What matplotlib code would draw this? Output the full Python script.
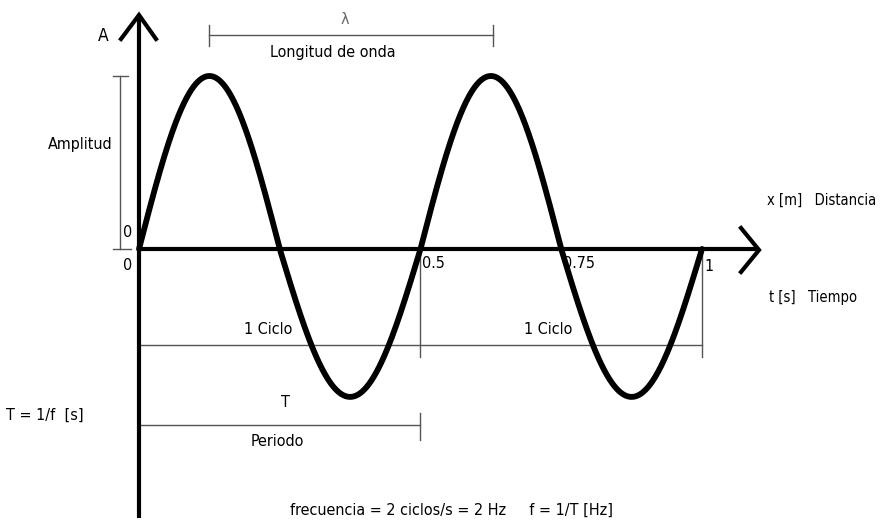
import numpy as np
import matplotlib
matplotlib.use("Agg")
import matplotlib.pyplot as plt

# ---- data ----
frequency_hz = 2.0          # ciclos por segundo
amplitude_up = 1.0          # peak height (relative)
amplitude_down = 0.855      # trough depth as drawn in the picture
t_end = 1.0
time_ticks = [0.5, 0.75, 1.0]
time_tick_labels = ["0.5", "0.75", "1"]
period_s = 1.0 / frequency_hz

plt.rcParams["font.family"] = ["DejaVu Sans"]
plt.rcParams["font.stretch"] = "condensed"

W, H = 887, 521
fig = plt.figure(figsize=(W / 100, H / 100), dpi=100)
ax = fig.add_axes([0, 0, 1, 1])
ax.set_axis_off()

# pixel -> data helpers for layout
X0, XS = 139.0, 563.0
Y0, YS = 249.0, 173.0
def X(px): return (px - X0) / XS
def Y(py): return (Y0 - py) / YS

ax.set_xlim(X(0), X(W))
ax.set_ylim(Y(H), Y(0))

# ---- wave ----
t = np.linspace(0, t_end, 800)
s = np.sin(2 * np.pi * frequency_hz * t)
y = np.where(s > 0, amplitude_up * s, amplitude_down * s)
ax.plot(t, y, color="black", lw=4.2, solid_capstyle="round", zorder=3)

# ---- axes ----
axis_kw = dict(color="black", lw=3.0, solid_capstyle="butt", zorder=4)
ax.plot([0, 0], [Y(518), Y(16)], **axis_kw)
ax.plot([X(121), 0, X(156)], [Y(39), Y(15), Y(39)], color="black", lw=3.0, zorder=4,
        solid_joinstyle="miter")
ax.plot([0, X(758)], [0, 0], **axis_kw)
ax.plot([X(741), X(759), X(741)], [Y(228), Y(250), Y(272)], color="black", lw=3.0,
        zorder=4, solid_joinstyle="miter")

thin = dict(color="#555555", lw=1.0, zorder=2)

# amplitude bracket
ax.plot([X(120), X(120)], [Y(76), 0], **thin)
ax.plot([X(113), X(128)], [Y(76), Y(76)], **thin)
ax.plot([X(113), X(131)], [0, 0], **thin)

# wavelength bracket
ax.plot([X(209), X(493)], [Y(35), Y(35)], **thin)
ax.plot([X(209), X(209)], [Y(25), Y(46)], **thin)
ax.plot([X(493), X(493)], [Y(25), Y(46)], **thin)

# cycle bracket
ax.plot([0, t_end], [Y(345), Y(345)], **thin)
for tx in [period_s, t_end]:
    ax.plot([tx, tx], [Y(253), Y(357)], **thin)

# period bracket
ax.plot([0, period_s], [Y(425), Y(425)], **thin)
ax.plot([period_s, period_s], [Y(413), Y(440)], **thin)

# ---- text ----
fs = 11.5
def txt(px, py, s, ha="center", va="center", size=fs, color="black"):
    ax.text(X(px), Y(py), s, ha=ha, va=va, fontsize=size, color=color, zorder=5)

txt(103, 36, "A", size=12.5)
txt(345, 19, "λ", color="#666666")
txt(333, 53, "Longitud de onda")
txt(80, 145, "Amplitud")
txt(128, 233, "0")
txt(128, 266, "0")
for tx, lab in zip(time_ticks, time_tick_labels):
    txt(X0 + tx * XS + 2, 264 if lab != "1" else 267, lab, ha="left")
txt(767, 200, "x [m]   Distancia", ha="left", size=10.5)
txt(769, 298, "t [s]   Tiempo", ha="left", size=10.5)
txt(268, 330, "1 Ciclo")
txt(548, 330, "1 Ciclo")
txt(285, 403, "T")
txt(277, 442, "Periodo")
txt(6, 415, "T = 1/f  [s]", ha="left")
txt(452, 510, "frecuencia = 2 ciclos/s = 2 Hz     f = 1/T [Hz]")

fig.savefig("out.png", dpi=100, facecolor="white")
